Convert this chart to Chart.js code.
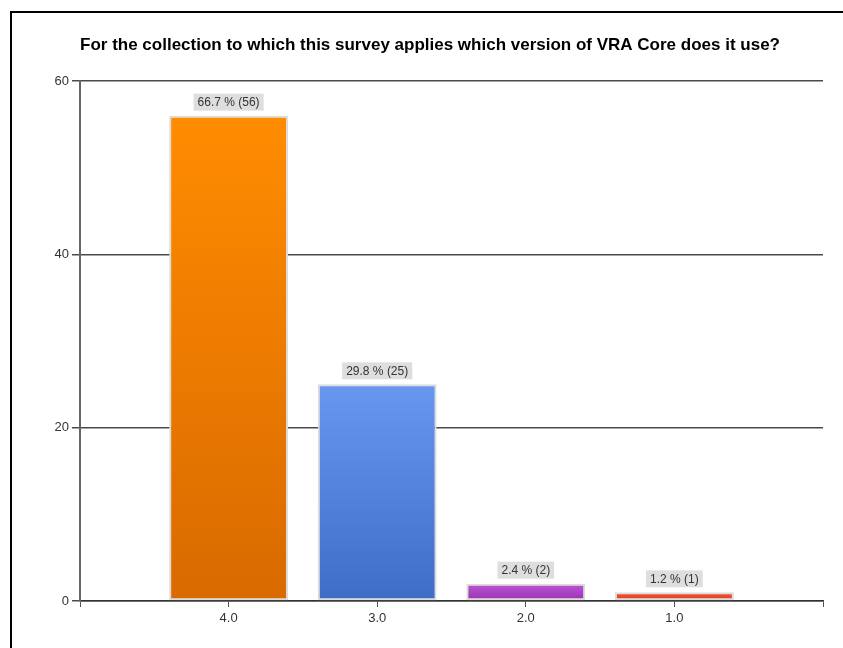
<!DOCTYPE html>
<html>
<head>
<meta charset="utf-8">
<script src="https://cdn.jsdelivr.net/npm/chart.js@4/dist/chart.umd.min.js"></script>
<style>
  html, body { margin: 0; padding: 0; background: #fff; }
  #wrap { width: 843px; height: 648px; }
</style>
</head>
<body>
<div id="wrap"><canvas id="chart" width="843" height="648"></canvas></div>
<script>
var titleText = 'For the collection to which this survey applies which version of VRA Core does it use?';
var categories = ['4.0', '3.0', '2.0', '1.0'];
var counts = [56, 25, 2, 1];
var yTicks = [0, 20, 40, 60];

// gradient ends for each bar (top, bottom)
var topColors = ['#ff8c00', '#6797ee', '#bb55d4', '#f0502f'];
var bottomColors = ['#d86a00', '#3d6dc4', '#9a32b1', '#e0402c'];

var total = counts.reduce(function (a, b) { return a + b; }, 0);

// blank slot on each side so the bars sit on ticks 1..4
var labels = [''].concat(categories, ['']);
var values = [null].concat(counts, [null]);

function barGradient(context) {
    var chart = context.chart;
    var i = context.dataIndex - 1;
    if (!chart.chartArea || i < 0 || i >= counts.length) return '#ccc';
    var y = chart.scales.y;
    var top = y.getPixelForValue(counts[i]);
    var bottom = y.getPixelForValue(0);
    var g = chart.ctx.createLinearGradient(0, top, 0, bottom);
    g.addColorStop(0, topColors[i]);
    g.addColorStop(1, bottomColors[i]);
    return g;
}

var framePlugin = {
    id: 'frame',
    beforeDraw: function (chart) {
        var ctx = chart.ctx;
        ctx.save();
        ctx.fillStyle = '#fff';
        ctx.fillRect(0, 0, chart.width, chart.height);
        ctx.strokeStyle = '#000';
        ctx.lineWidth = 2;
        ctx.beginPath();
        ctx.moveTo(11, chart.height);
        ctx.lineTo(11, 12);
        ctx.lineTo(chart.width, 12);
        ctx.stroke();

        ctx.fillStyle = '#000';
        ctx.font = 'bold 17px "Liberation Sans", Arial, sans-serif';
        ctx.textAlign = 'center';
        ctx.textBaseline = 'middle';
        ctx.fillText(titleText, 430, 45);
        ctx.restore();
    }
};

var valueLabels = {
    id: 'valueLabels',
    afterDatasetsDraw: function (chart) {
        var ctx = chart.ctx;
        var meta = chart.getDatasetMeta(0);
        ctx.save();
        ctx.font = '12px "Liberation Sans", Arial, sans-serif';
        ctx.textAlign = 'center';
        ctx.textBaseline = 'middle';
        meta.data.forEach(function (bar, idx) {
            var v = values[idx];
            if (v === null) return;
            var text = (v / total * 100).toFixed(1) + ' % (' + v + ')';
            var w = ctx.measureText(text).width + 8;
            var h = 17;
            var bottom = bar.y - 5;
            ctx.fillStyle = '#dedede';
            ctx.fillRect(bar.x - w / 2, bottom - h, w, h);
            ctx.fillStyle = '#333';
            ctx.fillText(text, bar.x, bottom - h / 2 + 1);
        });
        ctx.restore();
    }
};

new Chart(document.getElementById('chart'), {
    type: 'bar',
    data: {
        labels: labels,
        datasets: [{
            data: values,
            backgroundColor: barGradient,
            borderColor: '#dcdcdc',
            borderWidth: 2,
            borderSkipped: false,
            barPercentage: 0.8,
            categoryPercentage: 1.0
        }]
    },
    options: {
        responsive: false,
        animation: false,
        layout: { padding: { top: 81, right: 20, left: 0, bottom: 0 } },
        plugins: {
            legend: { display: false },
            title: { display: false },
            tooltip: { enabled: false }
        },
        scales: {
            x: {
                offset: false,
                afterFit: function (scale) { scale.height = 47; },
                grid: {
                    offset: false,
                    drawOnChartArea: false,
                    drawTicks: true,
                    tickLength: 6,
                    color: '#555'
                },
                border: { color: '#333', width: 1.5 },
                ticks: {
                    autoSkip: false,
                    maxRotation: 0,
                    padding: 4,
                    color: '#333',
                    font: { family: '"Liberation Sans", Arial, sans-serif', size: 13 }
                }
            },
            y: {
                min: 0,
                max: 60,
                afterFit: function (scale) { scale.width = 80; },
                afterBuildTicks: function (scale) {
                    scale.ticks = yTicks.map(function (v) { return { value: v }; });
                },
                grid: {
                    color: '#4a4a4a',
                    lineWidth: 1.5,
                    tickLength: 8
                },
                border: { color: '#666', width: 2 },
                ticks: {
                    padding: 3,
                    color: '#333',
                    font: { family: '"Liberation Sans", Arial, sans-serif', size: 13 }
                }
            }
        }
    },
    plugins: [framePlugin, valueLabels]
});
</script>
</body>
</html>
